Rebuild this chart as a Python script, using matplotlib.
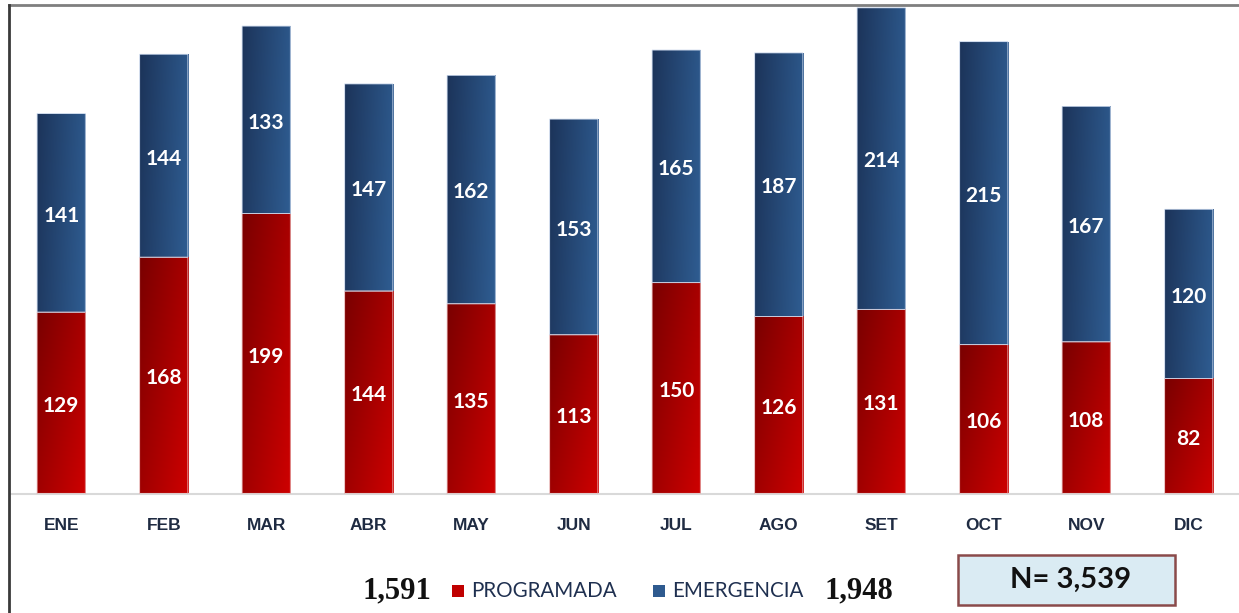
"""
Monthly surgeries: programmed vs. emergency, stacked bars with gradient fill.
"""

import matplotlib
matplotlib.use("Agg")
import matplotlib.pyplot as plt
import numpy as np
from matplotlib.patches import Rectangle
from matplotlib.lines import Line2D

MONTHS = ["ENE", "FEB", "MAR", "ABR", "MAY", "JUN", "JUL", "AGO", "SET", "OCT", "NOV", "DIC"]
PROGRAMADA = [129, 168, 199, 144, 135, 113, 150, 126, 131, 106, 108, 82]
EMERGENCIA = [141, 144, 133, 147, 162, 153, 165, 187, 214, 215, 167, 120]

W, H = 1239, 613


def gradient(c0, c1, diagonal=False, n=64):
    """RGB image going from c0 (left/top) to c1 (right/bottom)."""
    c0 = np.array(c0) / 255.0
    c1 = np.array(c1) / 255.0
    xx, yy = np.meshgrid(np.linspace(0, 1, n), np.linspace(0, 1, n))
    if diagonal:
        t = 0.55 * xx + 0.45 * yy
    else:
        t = 0.85 * xx + 0.15 * yy
    return c0 + (c1 - c0) * t[..., None]


BLUE_GRAD = gradient((28, 52, 90), (47, 93, 146))
RED_GRAD = gradient((122, 0, 0), (206, 0, 0), diagonal=True)

fig = plt.figure(figsize=(W / 100, H / 100), dpi=100)
ax = fig.add_axes([10 / W, (H - 494) / H, 1230 / W, 489 / H])

x = np.arange(len(MONTHS))
width = 0.47
bars_p = ax.bar(x, PROGRAMADA, width, facecolor="none", edgecolor="#e6b3b3",
                linewidth=0.6, zorder=3, snap=False)
bars_e = ax.bar(x, EMERGENCIA, width, bottom=PROGRAMADA, facecolor="none",
                edgecolor="#c5d3e8", linewidth=0.6, zorder=3, snap=False)

for bars, img, vals in ((bars_p, RED_GRAD, PROGRAMADA), (bars_e, BLUE_GRAD, EMERGENCIA)):
    for b, v in zip(bars, vals):
        x0, y0, bw, bh = b.get_x(), b.get_y(), b.get_width(), b.get_height()
        im = ax.imshow(img, extent=[x0, x0 + bw, y0, y0 + bh], aspect="auto",
                       origin="upper", zorder=2, interpolation="bilinear")
        im.set_clip_path(b)
        ax.annotate(str(v), (x0 + bw / 2, y0 + bh / 2), xytext=(0, -2),
                    textcoords="offset points", ha="center", va="center",
                    color="white", fontsize=15, fontweight="bold", family="Lato", zorder=4)

ax.set_xlim(-0.5, len(MONTHS) - 0.5)
ax.set_ylim(0, 347)
ax.set_xticks(x)
ax.set_xticklabels(MONTHS, fontsize=12.5, fontweight="bold", family="Liberation Sans", color="#1f2b42")
ax.tick_params(axis="x", length=0, pad=17)
ax.set_yticks([])
for s in ("top", "right", "left"):
    ax.spines[s].set_visible(False)
ax.spines["bottom"].set_color("#d9d9d9")
ax.spines["bottom"].set_linewidth(1.5)

# chart-area border (top and left only)
fig.add_artist(Line2D([9 / W, 1], [1 - 5 / H] * 2, color="#7f7f7f", lw=2))
fig.add_artist(Line2D([9 / W] * 2, [0, 1 - 5 / H], color="#3a3a3a", lw=2))

# legend row with totals
ly = 1 - 591 / H
total_p = sum(PROGRAMADA)
total_e = sum(EMERGENCIA)
fig.text(397 / W, ly, f"{total_p:,}", ha="center", va="center", fontsize=22,
         fontweight="bold", family="Liberation Serif", color="#111111")
fig.add_artist(Rectangle((452 / W, 1 - 597 / H), 12 / W, 12 / H, transform=fig.transFigure,
                         facecolor="#c00000", edgecolor="none"))
fig.text(471 / W, ly, "PROGRAMADA", ha="left", va="center", fontsize=14.8,
         family="Lato", color="#1f3050")
fig.add_artist(Rectangle((653 / W, 1 - 597 / H), 12 / W, 12 / H, transform=fig.transFigure,
                         facecolor="#2e5a8f", edgecolor="none"))
fig.text(672 / W, ly, "EMERGENCIA", ha="left", va="center", fontsize=14.8,
         family="Lato", color="#1f3050")
fig.text(859 / W, ly, f"{total_e:,}", ha="center", va="center", fontsize=22,
         fontweight="bold", family="Liberation Serif", color="#111111")

# N box
fig.add_artist(Rectangle((958 / W, 1 - 605 / H), 217 / W, 50 / H, transform=fig.transFigure,
                         facecolor="#daebf3", edgecolor="#8a4a4a", linewidth=1.8))
fig.text(1071 / W, 1 - 580 / H, f"N= {total_p + total_e:,}", ha="center", va="center",
         fontsize=21, fontweight="bold", family="Lato", color="#111111")

fig.savefig("out.png", dpi=100)
